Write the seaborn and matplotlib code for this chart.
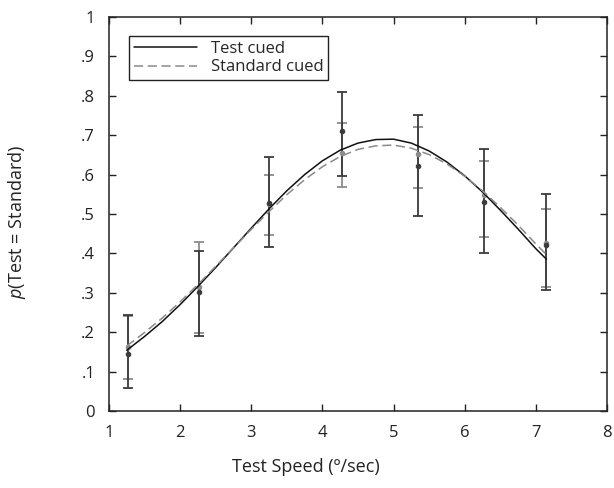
import matplotlib
matplotlib.use("Agg")
import matplotlib.pyplot as plt
import seaborn as sns
import numpy as np
import pandas as pd

# ---- data ----
pt_x = [1.27, 2.27, 3.25, 4.28, 5.35, 6.27, 7.15]

test_y = [0.145, 0.302, 0.528, 0.711, 0.622, 0.530, 0.421]
test_hi = [0.244, 0.406, 0.645, 0.810, 0.751, 0.665, 0.551]
test_lo = [0.058, 0.190, 0.416, 0.596, 0.495, 0.401, 0.307]

std_y = [0.162, 0.315, 0.525, 0.655, 0.652, 0.548, 0.426]
std_hi = [0.240, 0.430, 0.599, 0.731, 0.721, 0.635, 0.513]
std_lo = [0.081, 0.198, 0.447, 0.569, 0.566, 0.441, 0.315]

curve_x = [1.25, 1.5, 1.75, 2.0, 2.25, 2.5, 2.75, 3.0, 3.25, 3.5, 3.75, 4.0,
           4.25, 4.5, 4.75, 5.0, 5.25, 5.5, 5.75, 6.0, 6.25, 6.5, 6.75, 7.0, 7.15]
test_curve = [0.154, 0.189, 0.227, 0.270, 0.316, 0.364, 0.414, 0.464, 0.513, 0.559,
              0.600, 0.635, 0.662, 0.680, 0.689, 0.690, 0.680, 0.660, 0.632, 0.597,
              0.556, 0.510, 0.462, 0.412, 0.385]
std_curve = [0.165, 0.199, 0.236, 0.277, 0.321, 0.367, 0.414, 0.461, 0.506, 0.549,
             0.587, 0.620, 0.646, 0.664, 0.673, 0.675, 0.667, 0.651, 0.627, 0.596,
             0.559, 0.517, 0.472, 0.424, 0.397]

legend_labels = ["Test cued", "Standard cued"]
x_ticks = [1, 2, 3, 4, 5, 6, 7, 8]
y_ticks = [0, 0.1, 0.2, 0.3, 0.4, 0.5, 0.6, 0.7, 0.8, 0.9, 1.0]
y_ticklabels = ["0", ".1", ".2", ".3", ".4", ".5", ".6", ".7", ".8", ".9", "1"]

# ---- styling ----
sns.set_style("ticks")
plt.rcParams["font.family"] = ["Open Sans", "DejaVu Sans"]
plt.rcParams["mathtext.fontset"] = "custom"
plt.rcParams["mathtext.it"] = "Open Sans:italic"
plt.rcParams["mathtext.rm"] = "Open Sans"

fig = plt.figure(figsize=(6.14, 4.88), dpi=100)
ax = fig.add_axes([0.1775, 0.158, 0.811, 0.807])

dark = "#3c3c3c"
light = "#8c8c8c"

# error bars
ax.errorbar(pt_x, std_y,
            yerr=[np.array(std_y) - np.array(std_lo), np.array(std_hi) - np.array(std_y)],
            fmt="o", ms=3, color=light, ecolor=light, elinewidth=1.3,
            capsize=3.8, capthick=1.3, zorder=2)
ax.errorbar(pt_x, test_y,
            yerr=[np.array(test_y) - np.array(test_lo), np.array(test_hi) - np.array(test_y)],
            fmt="o", ms=3, color=dark, ecolor=dark, elinewidth=1.3,
            capsize=3.8, capthick=1.3, zorder=2)

df = pd.DataFrame({
    "x": curve_x * 2,
    "y": test_curve + std_curve,
    "cond": [legend_labels[0]] * len(curve_x) + [legend_labels[1]] * len(curve_x),
})
sns.lineplot(data=df[df.cond == legend_labels[0]], x="x", y="y", color="#111111",
             lw=1.1, ax=ax, label=legend_labels[0], zorder=3)
sns.lineplot(data=df[df.cond == legend_labels[1]], x="x", y="y", color="#8a8a8a",
             lw=1.1, ax=ax, label=legend_labels[1], zorder=3)
ax.lines[-1].set_linestyle((0, (6, 3)))

ax.set_xlim(1, 8)
ax.set_ylim(0, 1)
ax.set_xticks(x_ticks)
ax.set_xticklabels([str(t) for t in x_ticks])
ax.set_yticks(y_ticks)
ax.set_yticklabels(y_ticklabels)
ax.tick_params(direction="in", length=5, width=1, top=True, right=True,
               labelsize=12, colors="#222222", pad=10)
ax.tick_params(axis="x", pad=10)
for s in ax.spines.values():
    s.set_visible(True)
    s.set_linewidth(1.1)
    s.set_color("#222222")

ax.set_xlabel("Test Speed (º/sec)", fontsize=13, color="#222222")
ax.xaxis.set_label_coords(0.396, -0.12)
ax.set_ylabel("$p$(Test = Standard)", fontsize=13, color="#222222")
ax.yaxis.set_label_coords(-0.163, 0.48)

leg = ax.legend(loc="upper left", bbox_to_anchor=(0.04, 0.952), borderaxespad=0,
                fontsize=12, frameon=True, fancybox=False, edgecolor="#222222",
                framealpha=1, handlelength=3.8, borderpad=0.3, labelspacing=0.15,
                handletextpad=0.8)
leg.get_frame().set_linewidth(1.0)

fig.savefig("out.png", dpi=100)
